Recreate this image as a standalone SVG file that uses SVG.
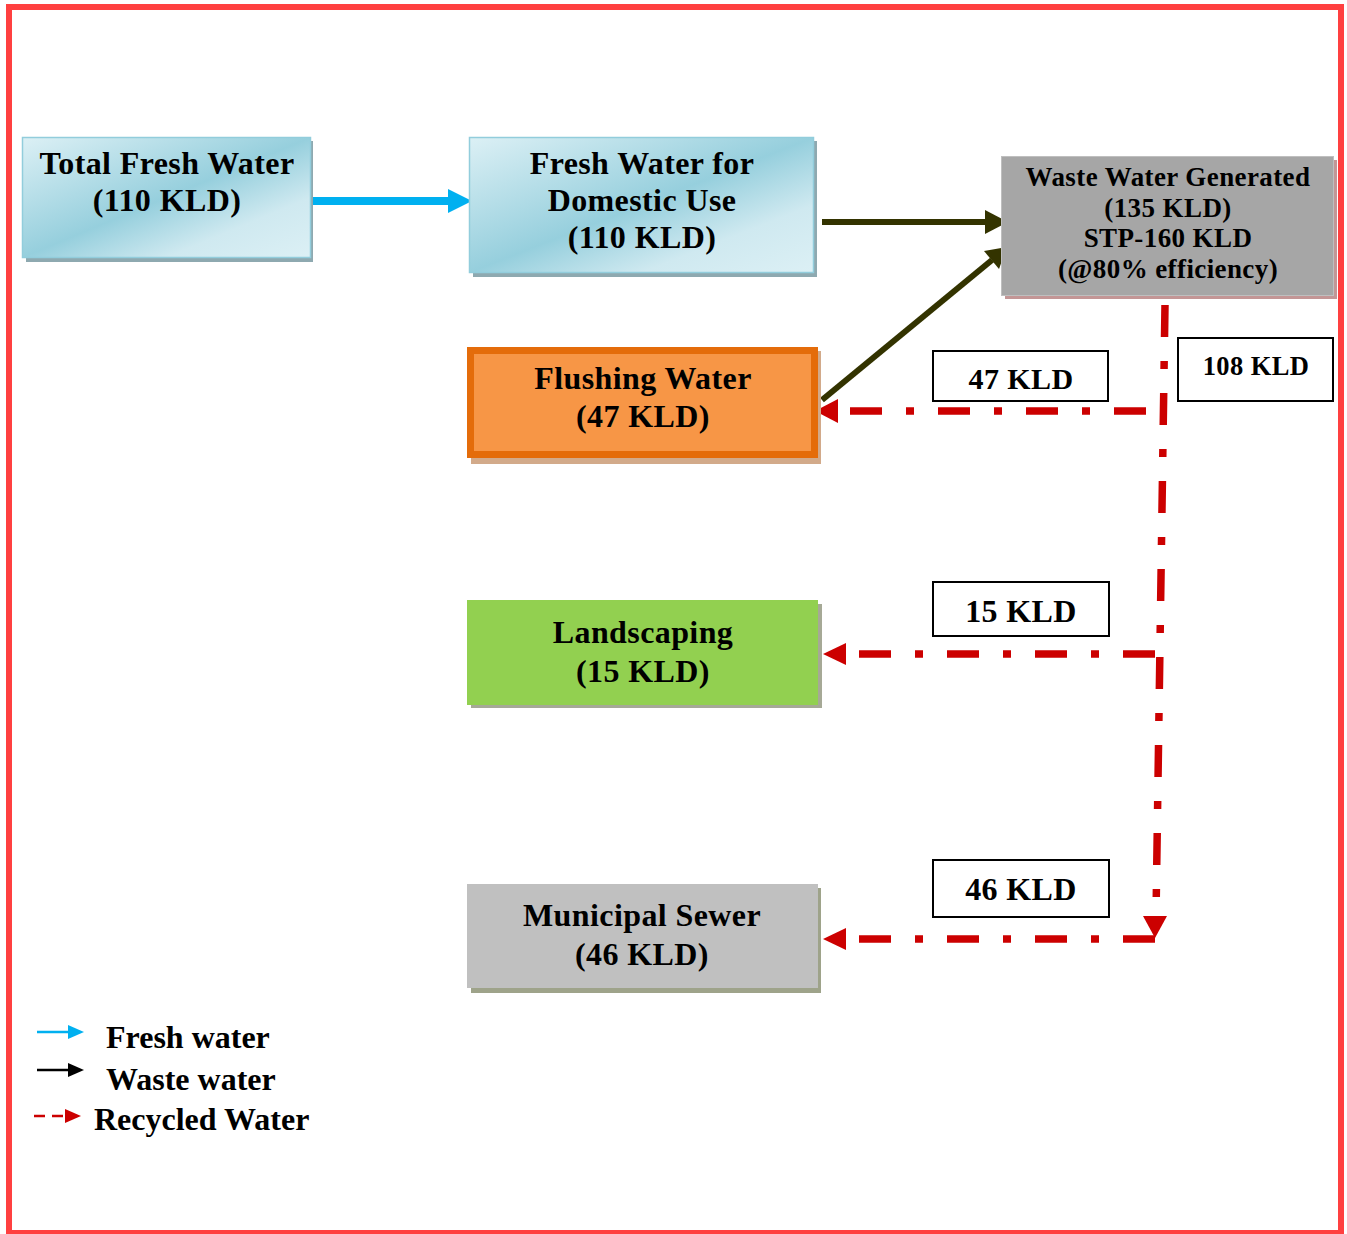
<svg xmlns="http://www.w3.org/2000/svg" width="1347" height="1234" viewBox="0 0 1347 1234">
<style>
.t{font-family:"Liberation Serif","Times New Roman",serif;font-weight:bold;fill:#000;text-anchor:middle;letter-spacing:0.4px}
.lg{font-family:"Liberation Serif","Times New Roman",serif;font-weight:bold;fill:#000;font-size:32px}
.rec{fill:none;stroke:#cc0000;stroke-width:7.5;stroke-dasharray:32 24 8 24}
.lbl{fill:#fff;stroke:#000;stroke-width:2}
</style>
<defs>
<linearGradient id="blueg" x1="0" y1="0" x2="1" y2="1">
<stop offset="0" stop-color="#dcf0f5"/>
<stop offset="0.5" stop-color="#96cfdd"/>
<stop offset="0.75" stop-color="#cfe9f0"/>
<stop offset="1" stop-color="#dcf0f5"/>
</linearGradient>
</defs>
<rect width="1347" height="1234" fill="#fff"/>
<rect x="9" y="7" width="1332" height="1226" fill="none" stroke="#ff4040" stroke-width="6"/>

<g id="connectors">
<line x1="312" y1="201" x2="450" y2="201" stroke="#00b0f0" stroke-width="8"/>
<polygon points="448,189 472,201 448,213" fill="#00b0f0"/>
<line x1="822" y1="222" x2="988" y2="222" stroke="#333300" stroke-width="6"/>
<polygon points="985,210 1008,222 985,234" fill="#333300"/>
<line x1="822" y1="400" x2="992" y2="260" stroke="#333300" stroke-width="6"/>
<polygon points="1007,247 984,251 999,269" fill="#333300"/>
<line class="rec" x1="1165" y1="305" x2="1156" y2="916"/>
<polygon points="1143,916 1167,916 1155,938" fill="#cc0000"/>
<line class="rec" x1="850" y1="411" x2="1147" y2="411"/>
<polygon points="815,411 838,399 838,423" fill="#cc0000"/>
<line class="rec" x1="859" y1="654" x2="1155" y2="654"/>
<polygon points="823,654 846,643 846,665" fill="#cc0000"/>
<line class="rec" x1="859" y1="939" x2="1155" y2="939"/>
<polygon points="823,939 846,928 846,950" fill="#cc0000"/>
</g>

<g id="total-fresh-water">
<rect x="26" y="141" width="287" height="121" fill="#8ea9b0"/>
<rect x="22.5" y="137.5" width="288" height="120" fill="url(#blueg)" stroke="#92cddc" stroke-width="1.5"/>
<text class="t" x="167" y="174" font-size="32">Total Fresh Water</text>
<text class="t" x="167" y="211" font-size="32">(110 KLD)</text>
</g>

<g id="fresh-water-domestic">
<rect x="473" y="141" width="344" height="136" fill="#8ea9b0"/>
<rect x="469.5" y="137.5" width="344" height="135" fill="url(#blueg)" stroke="#92cddc" stroke-width="1.5"/>
<text class="t" x="642" y="174" font-size="32">Fresh Water for</text>
<text class="t" x="642" y="211" font-size="32">Domestic Use</text>
<text class="t" x="642" y="248" font-size="32">(110 KLD)</text>
</g>

<g id="waste-water">
<rect x="1005" y="160" width="332" height="139" fill="#c39696"/>
<rect x="1001.5" y="156.5" width="332" height="139" fill="#a6a6a6" stroke="#bfbfbf" stroke-width="1"/>
<text class="t" x="1168" y="186" font-size="27">Waste Water Generated</text>
<text class="t" x="1168" y="217" font-size="27">(135 KLD)</text>
<text class="t" x="1168" y="247" font-size="27">STP-160 KLD</text>
<text class="t" x="1168" y="278" font-size="27">(@80% efficiency)</text>
</g>

<g id="flushing-water">
<rect x="471" y="351" width="350" height="113" fill="#d2aa8a"/>
<rect x="470.5" y="350.5" width="344" height="104" fill="#f79646" stroke="#e46c0a" stroke-width="7"/>
<text class="t" x="643" y="389" font-size="32">Flushing Water</text>
<text class="t" x="643" y="427" font-size="32">(47 KLD)</text>
</g>

<g id="landscaping">
<rect x="471" y="604" width="351" height="104" fill="#a6a996"/>
<rect x="467" y="600" width="351" height="105" fill="#92d050"/>
<text class="t" x="643" y="643" font-size="32">Landscaping</text>
<text class="t" x="643" y="682" font-size="32">(15 KLD)</text>
</g>

<g id="municipal-sewer">
<rect x="471" y="888" width="350" height="105" fill="#9ea38a"/>
<rect x="467" y="884" width="351" height="104" fill="#c0c0c0"/>
<text class="t" x="642" y="926" font-size="32">Municipal Sewer</text>
<text class="t" x="642" y="965" font-size="32">(46 KLD)</text>
</g>

<g id="label-47">
<rect class="lbl" x="933" y="351" width="175" height="50"/>
<text class="t" x="1021" y="389" font-size="30">47 KLD</text>
</g>
<g id="label-108">
<rect class="lbl" x="1178" y="338" width="155" height="63"/>
<text class="t" x="1256" y="375" font-size="26.5">108 KLD</text>
</g>
<g id="label-15">
<rect class="lbl" x="933" y="582" width="176" height="54"/>
<text class="t" x="1021" y="622" font-size="32">15 KLD</text>
</g>
<g id="label-46">
<rect class="lbl" x="933" y="860" width="176" height="57"/>
<text class="t" x="1021" y="900" font-size="32">46 KLD</text>
</g>

<g id="legend">
<line x1="37" y1="1032" x2="70" y2="1032" stroke="#00b0f0" stroke-width="2.5"/>
<polygon points="68,1025 84,1032 68,1039" fill="#00b0f0"/>
<text class="lg" x="106" y="1048">Fresh water</text>
<line x1="37" y1="1070" x2="70" y2="1070" stroke="#000" stroke-width="2.5"/>
<polygon points="68,1063 84,1070 68,1077" fill="#000"/>
<text class="lg" x="106" y="1090">Waste water</text>
<line x1="34" y1="1116" x2="64" y2="1116" stroke="#cc0000" stroke-width="2.5" stroke-dasharray="11 7"/>
<polygon points="65,1109 81,1116 65,1123" fill="#cc0000"/>
<text class="lg" x="94" y="1130">Recycled Water</text>
</g>
</svg>
